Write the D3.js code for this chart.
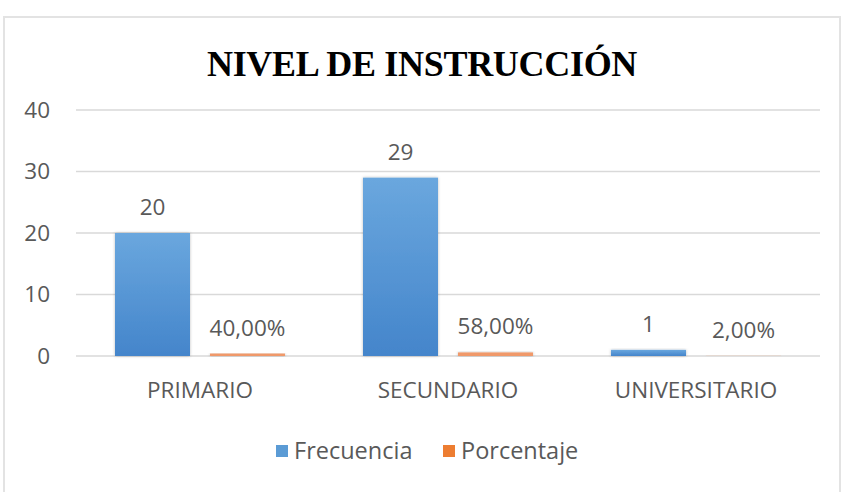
<!DOCTYPE html>
<html>
<head>
    <title>Nivel de instrucción</title>
    <script type="text/javascript" src="https://d3js.org/d3.v7.min.js"></script>
    <style>
        body { margin: 0; background: #ffffff; }
    </style>
</head>
<body>
    <div id="div-svg"></div>

    <script type="text/javascript">
        // Chart data
        let categories = ["PRIMARIO", "SECUNDARIO", "UNIVERSITARIO"];
        let seriesNames = ["Frecuencia", "Porcentaje"];
        let frecuencia = [20, 29, 1];
        let porcentaje = [0.40, 0.58, 0.02];
        let porcentajeLabels = ["40,00%", "58,00%", "2,00%"];
        let yTicks = [0, 10, 20, 30, 40];

        let width = 850;
        let height = 492;
        let font = "'Open Sans', 'Noto Sans', sans-serif";
        let fontSize = 22.5;
        let textColor = "#595959";
        let colors = ["#5b9bd5", "#ed7d31"];

        let svg = d3.select("#div-svg")
            .append("svg")
            .attr("id", "svg-1")
            .attr("width", width)
            .attr("height", height);

        // gradient for the blue bars
        let defs = svg.append("defs");
        let grad = defs.append("linearGradient")
            .attr("id", "blue-grad")
            .attr("x1", 0).attr("y1", 0).attr("x2", 0).attr("y2", 1);
        grad.append("stop").attr("offset", "0%").attr("stop-color", "#6aa7de");
        grad.append("stop").attr("offset", "100%").attr("stop-color", "#4485cb");

        let shadow = defs.append("filter")
            .attr("id", "shadow")
            .attr("x", "-20%").attr("y", "-20%")
            .attr("width", "140%").attr("height", "140%");
        shadow.append("feDropShadow")
            .attr("dx", 0).attr("dy", 0)
            .attr("stdDeviation", 1.5)
            .attr("flood-color", "#000")
            .attr("flood-opacity", 0.25);

        // chart border
        svg.append("rect")
            .attr("x", 4)
            .attr("y", 17)
            .attr("width", 836)
            .attr("height", 480)
            .attr("fill", "#ffffff")
            .attr("stroke", "#e3e3e3")
            .attr("stroke-width", 2);

        // title
        svg.append("text")
            .attr("x", 422)
            .attr("y", 76)
            .attr("text-anchor", "middle")
            .attr("font-family", "'Liberation Serif', 'Times New Roman', serif")
            .attr("font-weight", "bold")
            .attr("font-size", 36)
            .attr("letter-spacing", -0.3)
            .attr("fill", "#000000")
            .text("NIVEL DE INSTRUCCIÓN");

        // scales
        let xScale = d3.scaleBand()
            .domain(categories)
            .range([76, 820]);

        let xInner = d3.scaleBand()
            .domain(seriesNames)
            .range([39, xScale.bandwidth() - 39])
            .paddingInner(20 / 95)
            .paddingOuter(0);

        let yScale = d3.scaleLinear()
            .domain([0, 40])
            .range([356, 110]);

        // gridlines
        svg.append("g")
            .selectAll("line")
            .data(yTicks)
            .enter()
            .append("line")
            .attr("x1", 76)
            .attr("x2", 820)
            .attr("y1", d => yScale(d))
            .attr("y2", d => yScale(d))
            .attr("stroke", "#d9d9d9")
            .attr("stroke-width", 1.3);

        // y axis labels
        let yAxis = d3.axisLeft(yScale)
            .tickValues(yTicks)
            .tickSize(0)
            .tickPadding(0);

        let yG = svg.append("g")
            .attr("transform", "translate(50,0)")
            .call(yAxis);
        yG.select(".domain").remove();
        yG.selectAll("text")
            .attr("font-family", font)
            .attr("font-size", fontSize)
            .attr("fill", textColor);

        // x axis labels
        let xAxis = d3.axisBottom(xScale)
            .tickSize(0)
            .tickPadding(0);

        let xG = svg.append("g")
            .attr("transform", "translate(0,382)")
            .call(xAxis);
        xG.select(".domain").remove();
        xG.selectAll("text")
            .attr("font-family", font)
            .attr("font-size", fontSize)
            .attr("fill", textColor);

        // bars
        let rows = categories.map(function (c, i) {
            return [
                { cat: c, series: seriesNames[0], value: frecuencia[i], label: String(frecuencia[i]) },
                { cat: c, series: seriesNames[1], value: porcentaje[i], label: porcentajeLabels[i] }
            ];
        });

        let groups = svg.append("g")
            .selectAll("g")
            .data(rows)
            .enter()
            .append("g")
            .attr("transform", d => "translate(" + xScale(d[0].cat) + ",0)");

        groups.selectAll("rect")
            .data(d => d)
            .enter()
            .append("rect")
            .attr("x", d => xInner(d.series))
            .attr("width", xInner.bandwidth())
            .attr("y", d => yScale(d.value))
            .attr("height", d => Math.max(0, yScale(0) - yScale(d.value)))
            .attr("fill", d => d.series == seriesNames[0] ? "url(#blue-grad)" : "#f0996a")
            .attr("filter", "url(#shadow)");

        // data labels
        groups.selectAll("text")
            .data(d => d)
            .enter()
            .append("text")
            .attr("x", d => xInner(d.series) + xInner.bandwidth() / 2)
            .attr("y", d => yScale(d.value) - 18)
            .attr("text-anchor", "middle")
            .attr("font-family", font)
            .attr("font-size", fontSize)
            .attr("fill", textColor)
            .text(d => d.label);

        // legend
        let legendX = [276, 443];
        let legend = svg.append("g")
            .selectAll("g")
            .data(seriesNames)
            .enter()
            .append("g")
            .attr("transform", (d, i) => "translate(" + legendX[i] + ",445)");

        legend.append("rect")
            .attr("width", 12)
            .attr("height", 12)
            .attr("fill", (d, i) => colors[i]);

        legend.append("text")
            .attr("x", 18)
            .attr("y", 14)
            .attr("font-family", font)
            .attr("font-size", 23.5)
            .attr("fill", textColor)
            .text(d => d);
    </script>
</body>
</html>
